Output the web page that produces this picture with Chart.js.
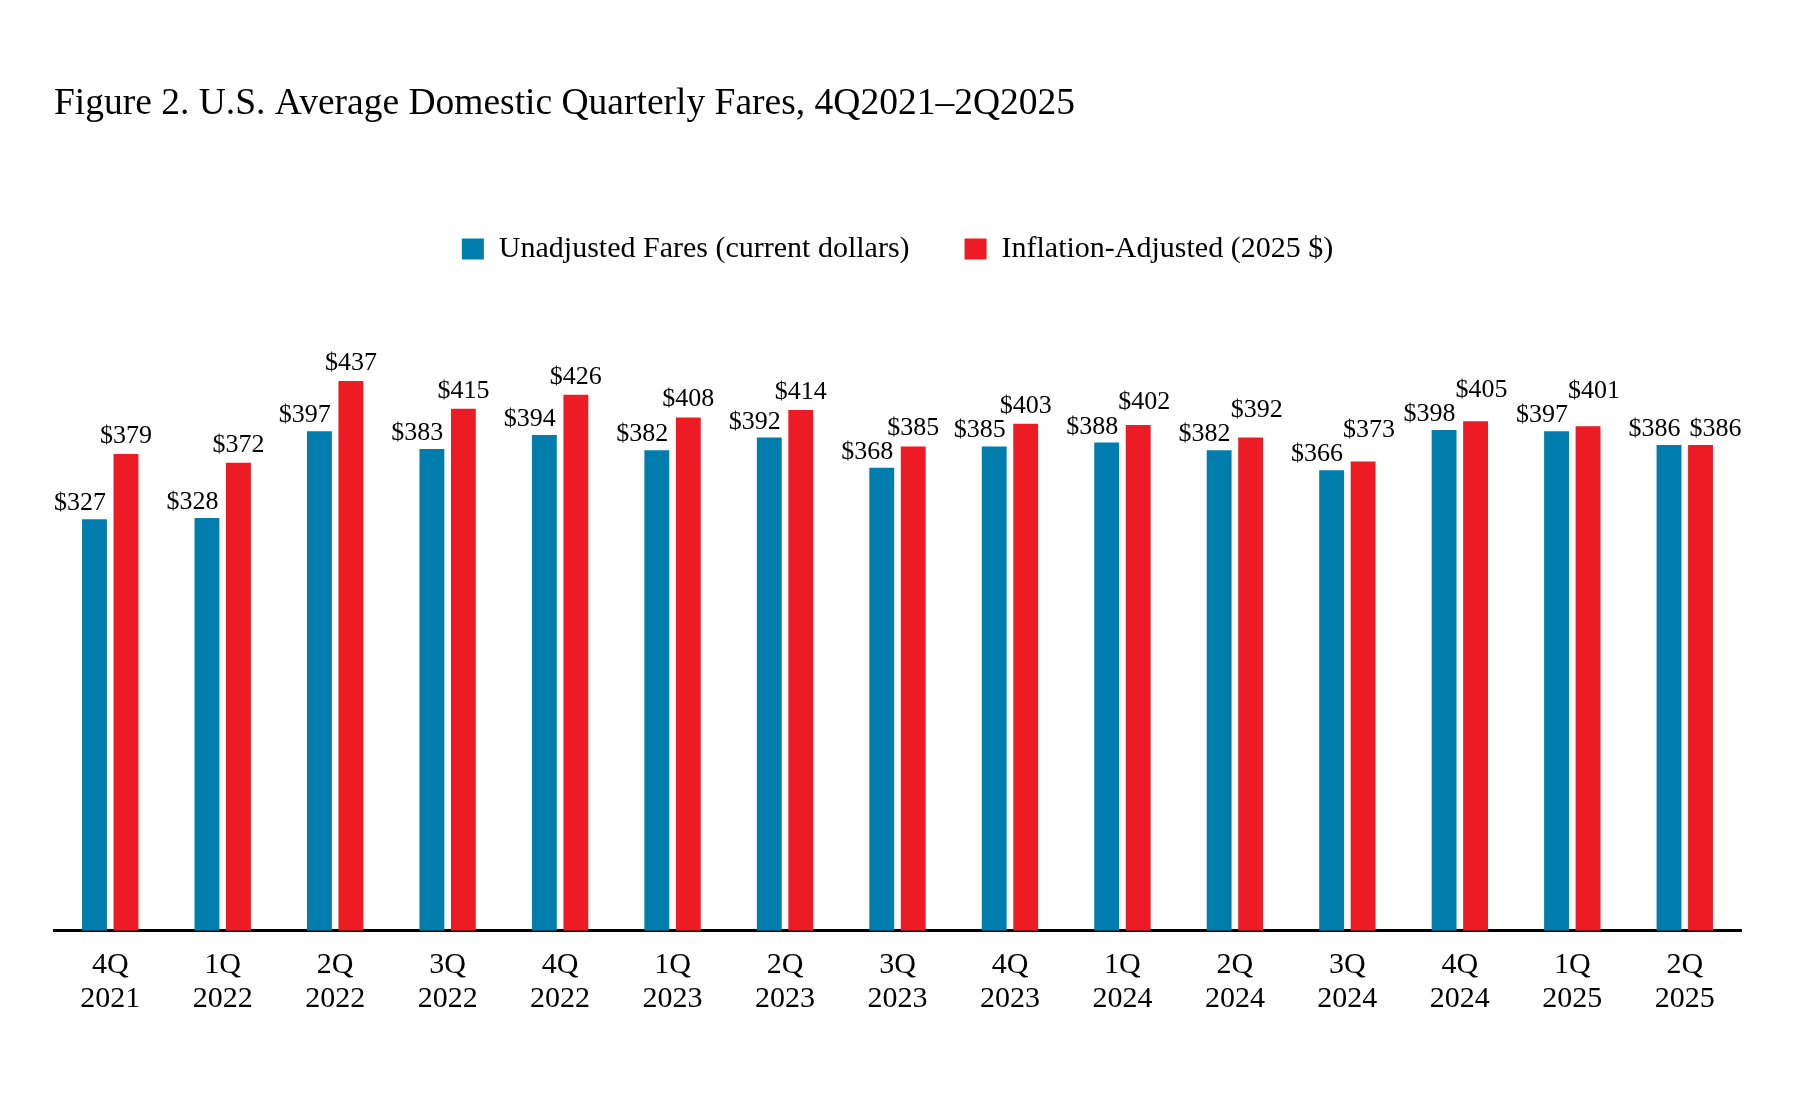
<!DOCTYPE html>
<html lang="en">
<head>
<meta charset="UTF-8">
<title>U.S. Average Domestic Quarterly Fares</title>
<script src="https://cdn.jsdelivr.net/npm/chart.js@4"></script>
<style>
  html, body { margin: 0; padding: 0; background: #ffffff; }
  .chart-box { width: 1800px; height: 1093px; position: relative; }
</style>
</head>
<body>
<div class="chart-box"><canvas id="faresChart"></canvas></div>
<script>
// quarter / year pairs for the x axis (two-line tick labels)
const quarters = ['4Q', '1Q', '2Q', '3Q', '4Q', '1Q', '2Q', '3Q', '4Q', '1Q', '2Q', '3Q', '4Q', '1Q', '2Q'];
const years = ['2021', '2022', '2022', '2022', '2022', '2023', '2023', '2023', '2023',
               '2024', '2024', '2024', '2024', '2025', '2025'];

// average fares, dollars
const unadjustedFares = [327, 328, 397, 383, 394, 382, 392, 368, 385, 388, 382, 366, 398, 397, 386];
const adjustedFares = [379, 372, 437, 415, 426, 408, 414, 385, 403, 402, 392, 373, 405, 401, 386];

const seriesNames = ['Unadjusted Fares (current dollars)', 'Inflation-Adjusted (2025 $)'];

const SERIF = '"Liberation Serif", "Times New Roman", serif';
const BLUE = '#007dad';
const RED = '#ed1c24';

Chart.defaults.font.family = SERIF;
Chart.defaults.color = '#000';

// value labels above the bars; blue label sits flush right on its bar,
// red one is nudged up / sideways when it would collide with the blue one
const valueLabels = {
    id: 'valueLabels',
    afterDatasetsDraw(chart) {
        const ctx = chart.ctx;
        const blueBars = chart.getDatasetMeta(0).data;
        const redBars = chart.getDatasetMeta(1).data;
        const size = 26;
        const capH = size * 0.66;
        ctx.save();
        ctx.font = size + 'px ' + SERIF;
        ctx.fillStyle = '#000';
        ctx.textBaseline = 'alphabetic';
        blueBars.forEach((b, i) => {
            const r = redBars[i];
            const bText = '$' + unadjustedFares[i];
            const rText = '$' + adjustedFares[i];
            const bRight = b.x + b.width / 2 - 1;
            const bBase = b.y - 9;
            ctx.textAlign = 'right';
            ctx.fillText(bText, bRight, bBase);

            const rw = ctx.measureText(rText).width;
            let rLeft = r.x - rw / 2;
            let rBase = r.y - 11;
            if (Math.abs(r.y - b.y) < 3) {
                rLeft = bRight + 9;
                rBase = bBase;
            } else if (rLeft < bRight + 2 && rBase > bBase - capH - 6) {
                rBase = bBase - capH - 7;
                rLeft += 6;
            }
            ctx.textAlign = 'left';
            ctx.fillText(rText, rLeft, rBase);
        });
        ctx.restore();
    }
};

new Chart(document.getElementById('faresChart'), {
    type: 'bar',
    data: {
        labels: quarters.map((q, i) => [q, years[i]]),
        datasets: [
            {
                label: seriesNames[0],
                data: unadjustedFares,
                backgroundColor: BLUE,
                borderWidth: 0,
                barPercentage: 0.79,
                categoryPercentage: 0.56
            },
            {
                label: seriesNames[1],
                data: adjustedFares,
                backgroundColor: RED,
                borderWidth: 0,
                barPercentage: 0.79,
                categoryPercentage: 0.56
            }
        ]
    },
    options: {
        responsive: true,
        maintainAspectRatio: false,
        animation: false,
        layout: {
            padding: { left: 54, right: 59, top: 0, bottom: 59 }
        },
        plugins: {
            title: {
                display: true,
                text: 'Figure 2. U.S. Average Domestic Quarterly Fares, 4Q2021\u20132Q2025',
                align: 'start',
                color: '#000',
                font: { family: SERIF, size: 37.5, weight: 'normal' },
                padding: { top: 82, bottom: 52 }
            },
            legend: {
                position: 'top',
                labels: {
                    color: '#000',
                    font: { family: SERIF, size: 30 },
                    boxWidth: 22,
                    boxHeight: 21,
                    padding: 55
                }
            },
            tooltip: { enabled: false }
        },
        scales: {
            x: {
                grid: { display: false, drawTicks: false },
                border: { display: true, color: '#000', width: 3 },
                ticks: {
                    color: '#000',
                    padding: 18,
                    font: { family: SERIF, size: 30, lineHeight: 1.12 },
                    maxRotation: 0,
                    autoSkip: false
                }
            },
            y: {
                display: false,
                min: 0,
                max: 522
            }
        }
    },
    plugins: [valueLabels]
});
</script>
</body>
</html>
